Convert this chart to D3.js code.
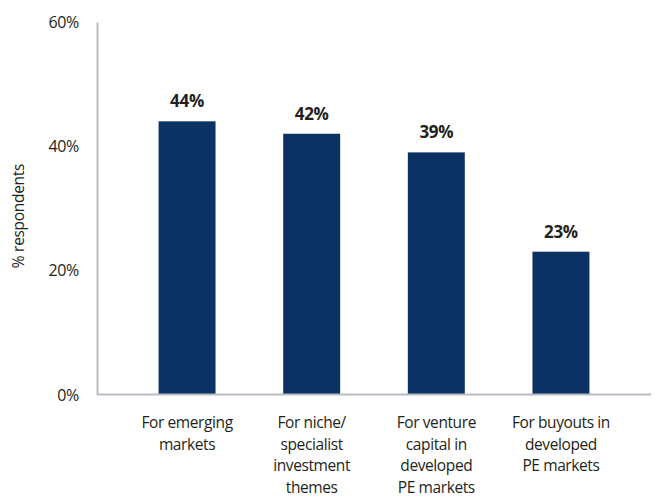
<!DOCTYPE html>
<html>
<head>
<meta charset="utf-8">
<script src="https://cdn.jsdelivr.net/npm/d3@7"></script>
<style>
  html, body { margin: 0; padding: 0; background: #fff; }
  svg text { font-family: "Open Sans", "Noto Sans", sans-serif; fill: #231f20; }
</style>
</head>
<body>
<svg id="chart" width="657" height="499"></svg>
<script>
// Survey shares by investment area
const categories = [
  ["For emerging", "markets"],
  ["For niche/", "specialist", "investment", "themes"],
  ["For venture", "capital in", "developed", "PE markets"],
  ["For buyouts in", "developed", "PE markets"]
];
const values = [44, 42, 39, 23];
const yTicks = [0, 20, 40, 60];
const yTitle = "% respondents";

const svg = d3.select("#chart");
const axisColor = "#b8bcc2";
const barColor = "#0b3263";

const x = d3.scaleBand()
  .domain(d3.range(categories.length))
  .range([97, 651])
  .paddingInner(0.543)
  .paddingOuter(0.494);

const y = d3.scaleLinear().domain([0, 60]).range([394.5, 22]);

// y axis
const yAxis = d3.axisLeft(y).tickValues(yTicks).tickFormat(d => d + "%").tickSize(0).tickPadding(18);
const gy = svg.append("g").attr("transform", "translate(97,0)").call(yAxis);
gy.select(".domain").attr("stroke", axisColor).attr("stroke-width", 2);
gy.selectAll("text").attr("font-size", 16).attr("dy", "0.35em")
  .attr("letter-spacing", -0.3)
  .style("font-family", '"Open Sans", sans-serif').style("fill", "#231f20");

// bars
svg.append("g").selectAll("rect").data(values).join("rect")
  .attr("x", (d, i) => x(i))
  .attr("width", x.bandwidth())
  .attr("y", d => y(d))
  .attr("height", d => y(0) - y(d))
  .attr("fill", barColor);

// x axis baseline
svg.append("line")
  .attr("x1", 97).attr("x2", 651)
  .attr("y1", y(0)).attr("y2", y(0))
  .attr("stroke", axisColor).attr("stroke-width", 2);

// value labels
svg.append("g").selectAll("text").data(values).join("text")
  .attr("x", (d, i) => x(i) + x.bandwidth() / 2)
  .attr("y", d => y(d) - 14)
  .attr("text-anchor", "middle")
  .attr("font-size", 17)
  .attr("font-weight", "bold")
  .attr("letter-spacing", -0.3)
  .text(d => d + "%");

// category labels
const cat = svg.append("g").selectAll("text").data(categories).join("text")
  .attr("x", (d, i) => x(i) + x.bandwidth() / 2)
  .attr("y", 428)
  .attr("text-anchor", "middle")
  .attr("font-size", 15.5)
  .attr("letter-spacing", -0.4);
cat.selectAll("tspan").data(d => d).join("tspan")
  .attr("x", function () { return d3.select(this.parentNode).attr("x"); })
  .attr("dy", (d, i) => i === 0 ? 0 : 21.5)
  .text(d => d);

// y axis title
svg.append("text")
  .attr("transform", "translate(24,216) rotate(-90)")
  .attr("text-anchor", "middle")
  .attr("font-size", 15.5)
  .attr("letter-spacing", -0.3)
  .text(yTitle);
</script>
</body>
</html>
